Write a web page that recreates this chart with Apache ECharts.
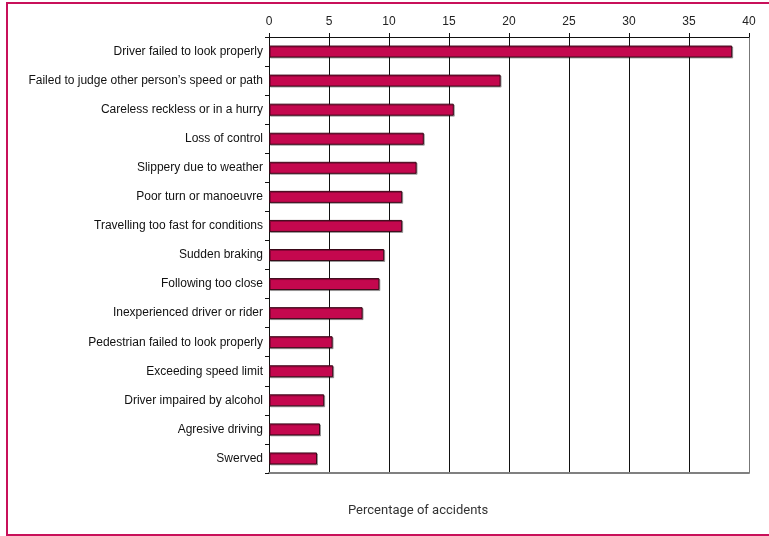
<!DOCTYPE html>
<html>
<head>
<meta charset="utf-8">
<script src="https://cdn.jsdelivr.net/npm/echarts@6/dist/echarts.min.js"></script>
<style>
  body { margin: 0; background: #fff; overflow: hidden; }
  #frame {
    position: absolute; left: 6px; top: 2px; width: 780px; height: 530px;
    border-left: 2px solid #c8105a; border-top: 2px solid #c8105a; border-bottom: 2px solid #c8105a;
  }
  #chart { position: absolute; left: 0; top: 0; width: 769px; height: 536px; }
</style>
</head>
<body>
<div id="frame"></div>
<div id="chart"></div>
<script>
// causes, top to bottom
const causes = [
  'Driver failed to look properly',
  'Failed to judge other person\u2019s speed or path',
  'Careless reckless or in a hurry',
  'Loss of control',
  'Slippery due to weather',
  'Poor turn or manoeuvre',
  'Travelling too fast for conditions',
  'Sudden braking',
  'Following too close',
  'Inexperienced driver or rider',
  'Pedestrian failed to look properly',
  'Exceeding speed limit',
  'Driver impaired by alcohol',
  'Agresive driving',
  'Swerved'
]
const percents = [38.6, 19.3, 15.4, 12.9, 12.3, 11.1, 11.1, 9.6, 9.2, 7.8, 5.3, 5.35, 4.6, 4.25, 4.0]
const xTicks = { min: 0, max: 40, step: 5 }
const axisTitle = 'Percentage of accidents'

const myChart = echarts.init(document.getElementById('chart'))
myChart.setOption({
  animation: false,
  title: {
    text: axisTitle,
    left: 343,
    top: 499,
    textStyle: {
      fontFamily: 'Roboto',
      fontWeight: 'normal',
      fontSize: 13,
      color: '#333',
    },
  },
  grid: {
    left: 269,
    right: 20,
    top: 37,
    bottom: 63,
  },
  xAxis: [
    {
      type: 'value',
      position: 'top',
      min: xTicks.min,
      max: xTicks.max,
      interval: xTicks.step,
      axisLine: { show: true, lineStyle: { color: '#111', width: 1 } },
      axisTick: { show: true, length: 4, lineStyle: { color: '#111' } },
      axisLabel: {
        color: '#222',
        fontFamily: 'Liberation Sans',
        fontSize: 12,
        margin: 9,
      },
      splitLine: {
        show: true,
        lineStyle: {
          color: ['#111', '#111', '#111', '#111', '#111', '#111', '#111', '#111', '#777'],
          width: 1,
        },
      },
    },
    {
      type: 'value',
      position: 'bottom',
      min: xTicks.min,
      max: xTicks.max,
      axisLine: { show: true, lineStyle: { color: '#808080', width: 2 } },
      axisTick: { show: false },
      axisLabel: { show: false },
      splitLine: { show: false },
    },
  ],
  yAxis: {
    type: 'category',
    inverse: true,
    data: causes,
    axisLine: { show: true, lineStyle: { color: '#111', width: 1 } },
    axisTick: { show: true, length: 4, lineStyle: { color: '#111' } },
    axisLabel: {
      color: '#111',
      fontFamily: 'Liberation Sans',
      fontSize: 12,
      margin: 6,
    },
  },
  series: [
    {
      type: 'bar',
      data: percents,
      barWidth: 12,
      itemStyle: {
        color: '#c4084e',
        borderColor: '#3a0818',
        borderWidth: 1,
        shadowColor: 'rgba(0,0,0,0.3)',
        shadowOffsetX: 1,
        shadowOffsetY: 1,
      },
    },
  ],
})
</script>
</body>
</html>
